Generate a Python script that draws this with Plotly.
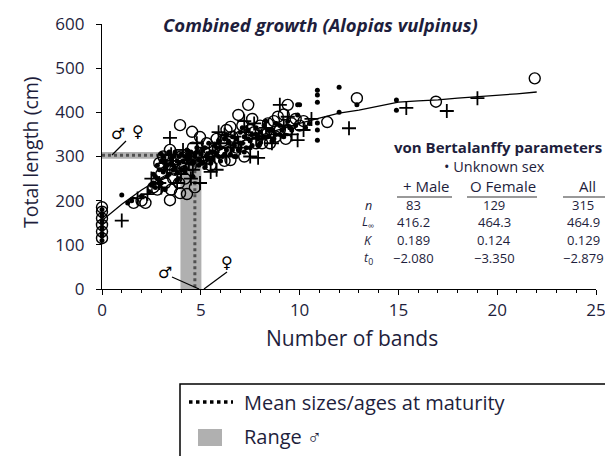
import plotly.graph_objects as go

# ---- data ----
# von Bertalanffy curve (combined), read at whole band counts
curve_bands = list(range(0, 23))
curve_len = [155, 192, 224, 252, 276, 297, 316, 333, 348, 362, 375, 387,
             398, 405, 414, 423, 426, 428, 432, 435, 438, 442, 446]

# unknown sex (small dots)
unk_x = [0, 0, 0, 0, 0, 0, 0, 0, 0, 0,
         1.0, 1.3, 1.5, 2.0, 2.4, 2.6, 2.8, 2.9, 3.0, 3.1, 3.2, 3.3, 3.5, 3.6,
         3.7, 3.8, 3.9, 4.0, 4.1, 4.2, 4.3, 4.4, 4.5, 4.6, 4.7, 4.8, 4.9, 5.0,
         5.1, 5.2, 5.3, 5.4, 5.5, 5.6, 5.7, 5.8, 5.9, 6.0, 6.1, 6.2, 6.3, 6.4,
         6.5, 6.6, 6.7, 6.8, 6.9, 7.0, 7.1, 7.2, 7.3, 7.4, 7.5, 7.6, 7.8, 7.9,
         8.0, 8.2, 8.4, 8.6, 8.8, 9.0, 9.2, 9.4, 9.6, 9.8, 9.9, 9.9, 10.0,
         10.3, 10.5, 10.9, 10.9, 10.9, 10.9, 10.9, 10.9, 12.0, 12.0, 12.9,
         14.9, 14.9, 3.0, 3.4, 3.8, 4.2, 4.6, 2.7, 3.2, 3.6,
         2.5, 2.7, 2.9, 3.1, 3.3, 3.5, 3.7, 3.9, 4.1, 4.3, 4.5, 4.7, 4.9,
         2.6, 2.8, 3.0, 3.2, 3.4, 3.6, 3.8, 4.0, 4.2, 4.4, 4.6, 4.8, 5.0,
         5.2, 5.4, 5.6, 5.8, 6.0, 6.2, 6.4, 6.6, 6.8, 7.0, 7.2, 7.4, 7.6, 7.8,
         8.0, 8.2, 8.4, 8.6, 8.8, 9.0, 9.2,
         5.1, 5.5, 5.9, 6.3, 6.7, 7.1, 7.5, 7.9, 8.3, 8.7, 9.1, 9.5]
unk_y = [110, 120, 125, 135, 140, 150, 155, 165, 170, 180,
         213, 195, 200, 210, 220, 240, 250, 270, 290, 300, 275, 255, 285, 300,
         310, 265, 285, 305, 290, 275, 315, 295, 310, 285, 300, 320, 295, 305,
         285, 320, 300, 330, 310, 295, 325, 305, 335, 320, 300, 340, 315, 330,
         305, 345, 325, 340, 315, 355, 330, 345, 320, 360, 335, 350, 365, 340,
         355, 370, 345, 360, 375, 350, 365, 380, 360, 370, 417, 394, 417,
         365, 375, 450, 439, 423, 376, 360, 337, 457, 400, 417,
         428, 405, 240, 260, 245, 265, 255, 230, 225, 280,
         235, 255, 245, 265, 280, 295, 275, 300, 270, 295, 285, 305, 280,
         260, 280, 305, 290, 310, 270, 290, 270, 300, 305, 290, 310, 285,
         275, 295, 310, 320, 290, 305, 335, 315, 300, 330, 310, 340, 325, 350,
         330, 345, 360, 335, 350, 370, 345,
         315, 285, 300, 350, 300, 365, 320, 325, 380, 340, 360, 365]

# males (+)
male_x = [1.0, 1.8, 2.3, 2.5, 3.0, 3.3, 3.44, 3.6, 4.0, 4.3, 4.6, 4.8, 4.96,
          5.3, 5.6, 5.8, 6.0, 6.3, 6.7, 7.0, 7.3, 7.5, 7.8, 7.9, 8.3, 8.7,
          9.0, 9.2, 9.6, 9.9, 10.2, 10.6, 12.5, 15.4, 17.45, 19.0, 3.8, 4.4,
          5.5, 6.5, 8.1, 2.9, 3.5, 4.1, 5.1, 5.9, 6.9, 7.7, 8.6, 9.4,
          3.2, 4.5, 5.7, 6.2, 7.2]
male_y = [155, 205, 215, 250, 230, 270, 342, 290, 260, 300, 270, 330, 240,
          290, 310, 270, 330, 300, 345, 320, 355, 300, 340, 297, 365, 350,
          417, 370, 350, 337, 360, 385, 364, 410, 403, 432, 240, 285,
          265, 320, 345, 240, 305, 315, 320, 355, 330, 375, 330, 390,
          285, 250, 300, 350, 380]

# females (open circles)
fem_x = [0, 0, 0, 0, 0, 0, 1.6, 2.0, 2.2, 2.9, 3.0, 3.2, 3.44, 3.44, 3.5,
         3.7, 3.95, 3.95, 4.0, 4.2, 4.5, 4.56, 4.6, 4.7, 4.96, 5.0, 5.3,
         5.5, 5.8, 6.0, 6.2, 6.5, 6.5, 6.8, 6.9, 7.0, 7.2, 7.4, 7.5, 7.8,
         8.0, 8.2, 8.4, 8.5, 8.7, 9.0, 9.3, 9.4, 9.4, 9.6, 10.0, 10.2, 11.4,
         12.9, 16.9, 21.9, 2.6, 3.3, 4.3,
         3.1, 3.6, 4.1, 4.8, 5.2, 5.7, 6.1, 6.6, 7.1, 7.7, 8.1, 8.8, 9.2, 9.8,
         2.8, 3.9, 5.4, 6.3, 7.6, 8.9]
fem_y = [115, 130, 145, 160, 175, 185, 195, 200, 195, 285, 260, 240, 201,
         315, 225, 270, 217, 371, 300, 250, 280, 356, 320, 230, 344, 300,
         330, 280, 340, 310, 290, 367, 292, 320, 394, 345, 300, 417, 360,
         330, 370, 350, 375, 330, 380, 360, 340, 417, 360, 375, 370, 380,
         378, 432, 424, 477, 230, 290, 215,
         300, 250, 280, 300, 310, 320, 335, 345, 370, 355, 330, 345, 395, 385,
         225, 240, 295, 360, 385, 390]

# maturity: mean (dotted) and male range (grey)
mean_band = 4.7
mean_len = 303
range_band = [3.97, 5.03]
range_len = [295, 310]

col_names = ['+ Male', 'O Female', 'All']
row_names = ['<i>n</i>', '<i>L</i><sub>∞</sub>', '<i>K</i>', '<i>t</i><sub>0</sub>']
male_par = ['83', '416.2', '0.189', '−2.080']
female_par = ['129', '464.3', '0.124', '−3.350']
all_par = ['315', '464.9', '0.129', '−2.879']

FONT = 'Open Sans'
TXT = '#1e1e3c'
GREY = '#b0b0b0'

# pixel helpers (plot area on screen: x 102..596, y 24..289)
def px(x):
    return (x - 102) / 494

def py(y):
    return (289 - y) / 265

def label(x, y, text, size, **kw):
    d = dict(x=px(x), y=py(y), xref='paper', yref='paper', showarrow=False,
             xanchor='center', yanchor='middle', text=text,
             font=dict(size=size, color=kw.pop('color', TXT), family=kw.pop('family', FONT)))
    d.update(kw)
    return d

fig = go.Figure()

# grey range (L shape)
fig.add_trace(go.Scatter(
    x=[0, range_band[0], range_band[0], range_band[1], range_band[1], 0, 0],
    y=[range_len[0], range_len[0], 0, 0, range_len[1], range_len[1], range_len[0]],
    fill='toself', fillcolor=GREY, mode='lines', line=dict(width=0, color=GREY),
    showlegend=False, hoverinfo='skip'))

# dotted mean
fig.add_trace(go.Scatter(
    x=[0, mean_band, mean_band], y=[mean_len, mean_len, 0],
    mode='lines', line=dict(color='#505050', width=3, dash='dot'),
    showlegend=False, hoverinfo='skip'))

fig.add_trace(go.Scatter(x=curve_bands, y=curve_len, mode='lines',
                         line=dict(color='black', width=1.3), showlegend=False))

fig.add_trace(go.Scatter(x=unk_x, y=unk_y, mode='markers', showlegend=False,
                         cliponaxis=False,
                         marker=dict(symbol='circle', size=5, color='black')))
fig.add_trace(go.Scatter(x=male_x, y=male_y, mode='markers', showlegend=False,
                         cliponaxis=False,
                         marker=dict(symbol='cross-thin', size=10, color='black',
                                     line=dict(color='black', width=1.8))))
fig.add_trace(go.Scatter(x=fem_x, y=fem_y, mode='markers', showlegend=False,
                         cliponaxis=False,
                         marker=dict(symbol='circle-open', size=11, color='black',
                                     line=dict(color='black', width=1.4))))

ann = []
shapes = []

# title and axis titles
ann.append(label(320, 24, '<b><i>Combined growth (Alopias vulpinus)</i></b>', 18.5))
ann.append(label(30, 152, 'Total length (cm)', 19.5, textangle=-90))
ann.append(label(352, 338, 'Number of bands', 21))

# sex symbols with pointer lines
for sx, sy, sym in [(118, 133, '♂'), (138, 131, '♀'), (165, 272, '♂'), (227, 262, '♀')]:
    ann.append(label(sx, sy, sym, 16, color='black', family='DejaVu Sans'))
for x0, y0, x1, y1 in [(126, 141, 112, 155), (172, 277, 199, 289), (227, 272, 204, 289)]:
    shapes.append(dict(type='line', xref='paper', yref='paper',
                       x0=px(x0), x1=px(x1), y0=py(y0), y1=py(y1),
                       line=dict(color='black', width=1.2)))

# parameter table
ann.append(label(498, 147, '<b>von Bertalanffy parameters</b>', 15))
ann.append(label(494, 166, '• Unknown sex', 14.5))
col_x = [426, 503, 587]
val_x = [413, 494, 583]
for cx, name in zip(col_x, col_names):
    ann.append(label(cx, 186, name, 15))
for a, b in [(397, 452), (467, 537), (563, 613)]:
    shapes.append(dict(type='line', xref='paper', yref='paper',
                       x0=px(a), x1=px(b), y0=py(197), y1=py(197),
                       line=dict(color='#777777', width=1.5)))
row_y = [205, 222, 240, 258]
for ry, rn, m, f, a in zip(row_y, row_names, male_par, female_par, all_par):
    ann.append(label(368, ry, rn, 12.5))
    for vx, v in zip(val_x, [m, f, a]):
        ann.append(label(vx, ry, v, 13))

# legend box drawn below the plot
shapes.append(dict(type='rect', xref='paper', yref='paper',
                   x0=px(180), x1=px(640), y0=py(384), y1=py(470),
                   line=dict(color='black', width=1.5), fillcolor='white', layer='below'))
shapes.append(dict(type='line', xref='paper', yref='paper',
                   x0=px(189), x1=px(233), y0=py(402), y1=py(402),
                   line=dict(color='black', width=3.5, dash='dot')))
shapes.append(dict(type='rect', xref='paper', yref='paper',
                   x0=px(198), x1=px(222), y0=py(429), y1=py(446),
                   line=dict(width=0), fillcolor=GREY))
ann.append(label(242, 402, 'Mean sizes/ages at maturity', 20, xanchor='left'))
ann.append(label(242, 436, 'Range ♂', 20, xanchor='left'))

# page has an 8px body margin, so margins are shifted by 8px
fig.update_layout(
    width=613, height=456,
    margin=dict(l=94, r=25, t=16, b=175, autoexpand=False),
    plot_bgcolor='white', paper_bgcolor='white',
    font=dict(family=FONT, color=TXT),
    annotations=ann, shapes=shapes,
    showlegend=False,
    xaxis=dict(range=[0, 25], tickvals=[0, 5, 10, 15, 20, 25], showgrid=False,
               zeroline=False, showline=True, linecolor='black', linewidth=1.3,
               ticks='outside', ticklen=5, tickcolor='black',
               minor=dict(dtick=1, ticks='outside', ticklen=3, tickcolor='black'),
               tickfont=dict(size=17, color=TXT)),
    yaxis=dict(range=[0, 600], tickvals=[0, 100, 200, 300, 400, 500, 600],
               showgrid=False, zeroline=False, showline=True, linecolor='black',
               linewidth=1.3, ticks='outside', ticklen=5, tickcolor='black',
               ticklabelstandoff=8, tickfont=dict(size=17, color=TXT)),
)

fig.write_html("out.html")
